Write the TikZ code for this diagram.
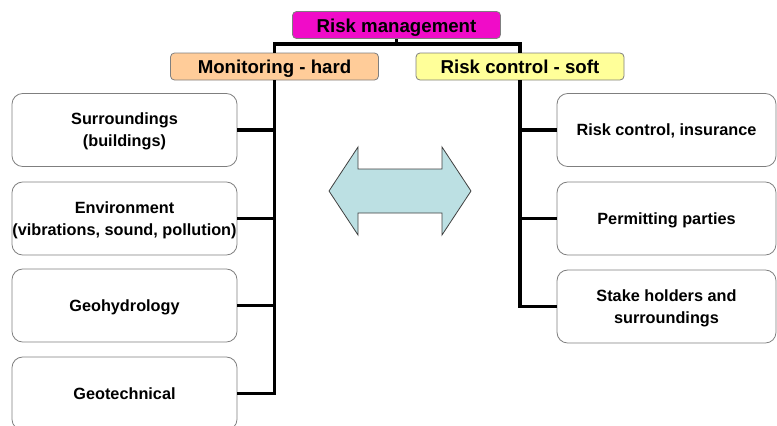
\documentclass[tikz,border=0pt]{standalone}
\usepackage{fontspec}
\setmainfont{Liberation Sans}
\usepackage{xcolor}
\usetikzlibrary{calc}
\definecolor{Magenta}{HTML}{F00CC8}
\definecolor{Peach}{HTML}{FFCC99}
\definecolor{Lemon}{HTML}{FFFF99}
\definecolor{Aqua}{HTML}{BCE0E3}
\definecolor{Frame}{HTML}{7F7F7F}
\begin{document}
\begin{tikzpicture}[x=0.75pt,y=-0.75pt,font=\bfseries,head/.style={draw=Frame,line width=0.6pt,rounded corners=3pt,minimum width=156pt,minimum height=20.25pt,inner sep=0pt,text height=11pt,text depth=0pt,font=\fontsize{14}{16}\selectfont\bfseries},item/.style={draw=Frame,line width=0.6pt,rounded corners=8pt,fill=white,minimum width=168.75pt,minimum height=54.75pt,inner sep=0pt,text depth=0pt,align=center,font=\fontsize{12.2}{16.5}\selectfont\bfseries},ritem/.style={item,minimum width=164.25pt},conn/.style={line width=2.5pt,draw=black}]
\useasboundingbox (0,0) rectangle (777,425);
\node[head,fill=Magenta] (risk) at (396.5,25){Risk management};
\node[head,fill=Peach] (mon) at (274.5,66.5){Monitoring - hard};
\node[head,fill=Lemon] (ctl) at (520,66.5){Risk control - soft};
\coordinate (bar) at (396.5,44);
\draw[conn] (risk.south) -- (bar);
\draw[conn] (mon.north) |- (bar) -| (ctl.north);
% monitoring side
\node[item] (surr) at (124.5,130){Surroundings\\(buildings)};
\node[item] (env) at (124.5,218.5){Environment\\(vibrations, sound, pollution)};
\node[item] (hydro) at (124.5,305.5){Geohydrology};
\node[item] (geotech) at (124.5,393.5){Geotechnical};
\draw[conn] (mon.south) |- (geotech.east);
\foreach \n in {surr,env,hydro}
  \draw[conn] (\n.east) -- (\n.east -| mon.south);
% control side
\node[ritem] (insur) at (666.5,130){Risk control, insurance};
\node[ritem] (permit) at (666.5,218.5){Permitting parties};
\node[ritem] (stake) at (666.5,306.5){Stake holders and\\surroundings};
\draw[conn] (ctl.south) |- (stake.west);
\foreach \n in {insur,permit}
  \draw[conn] (\n.west) -- (\n.west -| ctl.south);
% double arrow
\draw[draw=black!75,line width=0.6pt,fill=Aqua] (329,191) -- (358,147) -- (358,169) -- (442,169) -- (442,147) -- (471,191) -- (442,235) -- (442,213) -- (358,213) -- (358,235) -- cycle;
\end{tikzpicture}
\end{document}
